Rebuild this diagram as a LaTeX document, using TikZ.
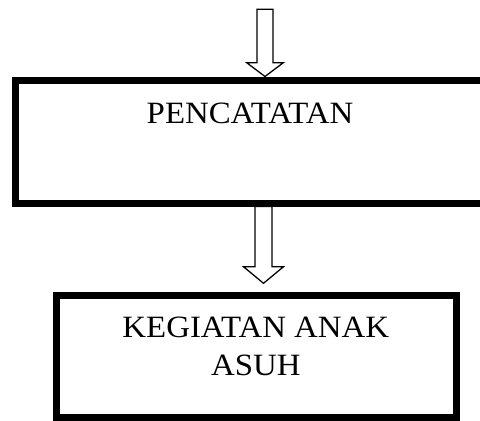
\documentclass[tikz,border=0pt]{standalone}
\usepackage{fontspec}
\setmainfont{Liberation Serif}[FakeStretch=1.06]
\begin{document}
\begin{tikzpicture}[x=1pt,y=-1pt,
  box/.style={draw, line width=7pt, inner sep=0pt, fill=none},
  label/.style={font=\fontsize{31}{38}\selectfont, inner sep=0pt},
  hollow/.style={draw, line width=1.3pt, fill=white, line join=miter}]
% frame of the page
\useasboundingbox (0,0) rectangle (480,421);
\clip (0,0) rectangle (480,421);
% process boxes
\node[box, minimum width=484.5pt, minimum height=123pt] (box1) at (257.75,141.5) {};
\node[box, minimum width=399.8pt, minimum height=122.2pt] (box2) at (256.6,356.6) {};
% texts (base anchor sits on the last line)
\node[label, anchor=base] (t1) at (250,123) {PENCATATAN};
\node[label, anchor=base, align=center] (t2) at (255.8,375.3) {KEGIATAN ANAK\\ASUH};
% block arrow shape: start, head base, tip, shaft half width, head half width
\newcommand\hollowarrow[5]{%
  \draw[hollow] ([xshift=-#4pt]#1) -- ([xshift=-#4pt]#2) -- ([xshift=-#5pt]#2)
    -- (#3) -- ([xshift=#5pt]#2) -- ([xshift=#4pt]#2) -- ([xshift=#4pt]#1) -- cycle;}
% arrow into the first box
\coordinate (a1s) at (265,9.3);
\coordinate (a1h) at (265,62.7);
\coordinate (a1t) at (box1.north -| a1s);
\hollowarrow{a1s}{a1h}{a1t}{8}{18.3}
% arrow from the first box to the second
\coordinate (a2s) at (box1.south -| 263.5,0);
\coordinate (a2h) at (263.5,266.7);
\coordinate (a2t) at (263.5,283.3);
\hollowarrow{a2s}{a2h}{a2t}{8.5}{20}
\end{tikzpicture}
\end{document}
